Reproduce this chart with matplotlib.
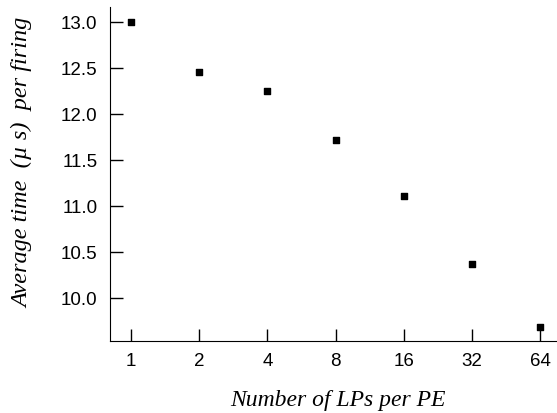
import numpy as np
import matplotlib.pyplot as plt

# LPs per PE and average time per firing (microseconds)
lps_per_pe = [1, 2, 4, 8, 16, 32, 64]
avg_time = [13.0, 12.45, 12.25, 11.71, 11.10, 10.37, 9.68]
x_labels = ["1", "2", "4", "8", "16", "32", "64"]
y_ticks = [10.0, 10.5, 11.0, 11.5, 12.0, 12.5, 13.0]

fig = plt.figure(figsize=(5.57, 4.14), dpi=100)
ax = fig.add_axes([0.1975, 0.174, 0.8025, 0.807])

xpos = np.log2(lps_per_pe)
ax.scatter(xpos, avg_time, marker='s', s=20, c='black', zorder=3)

ax.set_xlim(-0.31, 6.25)
ax.set_ylim(9.53, 13.16)
ax.set_xticks(xpos)
ax.set_xticklabels(x_labels, family='Liberation Sans')
ax.set_yticks(y_ticks)
ax.set_yticklabels([f"{v:.1f}" for v in y_ticks], family='Liberation Sans')

for side in ['top', 'right']:
    ax.spines[side].set_visible(False)
ax.tick_params(direction='in', length=9, width=1, labelsize=13.5, pad=8)
ax.tick_params(axis='y', pad=9)

ax.set_xlabel("Number of LPs per PE", family='Liberation Serif', style='italic',
              fontsize=17)
ax.set_ylabel("Average time  (µ s)  per firing", family='Liberation Serif',
              style='italic', fontsize=17.5)
# label placement as in the original figure
ax.xaxis.set_label_coords(0.51, -0.145)
ax.yaxis.set_label_coords(-0.172, 0.536)

fig.savefig("out.png", dpi=100)
